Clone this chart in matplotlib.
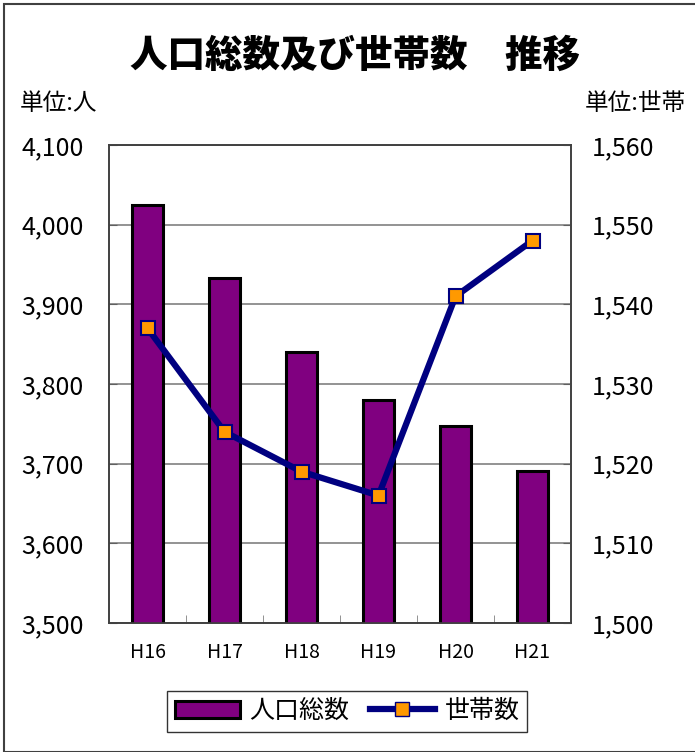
import matplotlib.pyplot as plt
import numpy as np
from matplotlib.patches import Rectangle
from matplotlib.lines import Line2D
from matplotlib.patches import Patch

plt.rcParams['font.family'] = ['Noto Sans CJK JP', 'DejaVu Sans']

years = ['H16', 'H17', 'H18', 'H19', 'H20', 'H21']
population = [4025, 3933, 3840, 3780, 3747, 3691]
households = [1537, 1524, 1519, 1516, 1541, 1548]
left_ticks = [3500, 3600, 3700, 3800, 3900, 4000, 4100]
right_ticks = [1500, 1510, 1520, 1530, 1540, 1550, 1560]

fig = plt.figure(figsize=(6.95, 7.52), dpi=100)
ax = fig.add_axes([109 / 695, 1 - 623 / 752, 462 / 695, 478 / 752])
x = np.arange(len(years))

ax.bar(x, population, width=0.4, color='#800080', edgecolor='black', linewidth=2.2, zorder=3)
ax.set_ylim(3500, 4100)
ax.set_xlim(-0.5, len(years) - 0.5)
ax.set_yticks(left_ticks)
ax.set_yticklabels([f'{v:,}' for v in left_ticks], fontsize=18)
ax.yaxis.grid(True, color='#808080', linewidth=1.2, zorder=0)
ax.set_xticks(x)
ax.set_xticklabels(years, fontsize=14)
ax.set_xticks(np.arange(0.5, len(years) - 1), minor=True)
ax.tick_params(axis='x', which='major', length=0, pad=14)
ax.tick_params(axis='x', which='minor', direction='in', length=6, color='#808080')
ax.tick_params(axis='y', direction='in', length=6, color='#606060', pad=18)
for s in ax.spines.values():
    s.set_color('#404040')
    s.set_linewidth(1.2)

ax2 = ax.twinx()
ax2.plot(x, households, color='#000080', linewidth=4.5, marker='s', markersize=10,
         markerfacecolor='#FF9900', markeredgecolor='#000080', markeredgewidth=1.5, zorder=4)
ax2.set_ylim(1500, 1560)
ax2.set_yticks(right_ticks)
ax2.set_yticklabels([f'{v:,}' for v in right_ticks], fontsize=18)
ax2.tick_params(axis='y', direction='in', length=6, color='#606060', pad=15)
for s in ax2.spines.values():
    s.set_color('#404040')
    s.set_linewidth(1.2)

fig.text(355 / 695, 1 - 56 / 752, '人口総数及び世帯数　推移', ha='center', va='center',
         fontsize=27, fontweight='black')
fig.text(20 / 695, 1 - 104 / 752, '単位:人', ha='left', va='center', fontsize=17)
fig.text(686 / 695, 1 - 104 / 752, '単位:世帯', ha='right', va='center', fontsize=17)

handles = [Patch(facecolor='#800080', edgecolor='black', linewidth=2.2),
           Line2D([0], [0], color='#000080', linewidth=4.5, marker='s', markersize=10,
                  markerfacecolor='#FF9900', markeredgecolor='#000080')]
leg = fig.legend(handles, ['人口総数', '世帯数'], loc='center', ncol=2,
                 bbox_to_anchor=(347 / 695, 1 - 711 / 752), fontsize=18, frameon=True,
                 fancybox=False, edgecolor='black', handlelength=2.6, handletextpad=0.4,
                 columnspacing=0.8, borderpad=0.3)
leg.get_frame().set_linewidth(1.0)

fig.patches.append(Rectangle((4 / 695, 0), 1, 1 - 4 / 752, transform=fig.transFigure,
                             fill=False, edgecolor='#404040', linewidth=1.5))

fig.savefig('out.png', dpi=100)
